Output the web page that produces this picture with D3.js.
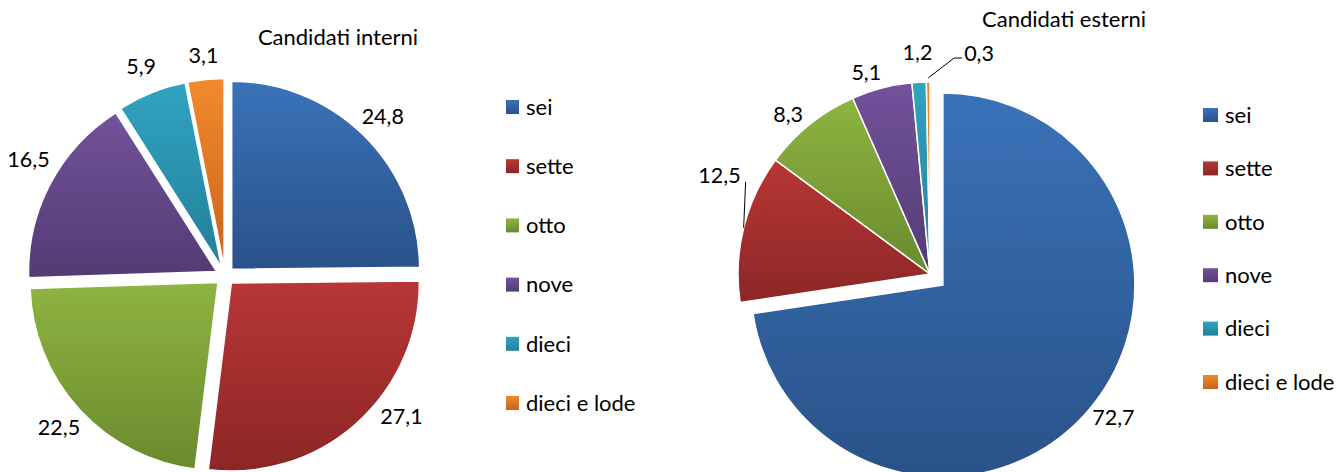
<!DOCTYPE html>
<html>
<head>
<meta charset="utf-8">
<script src="https://cdn.jsdelivr.net/npm/d3@7"></script>
<style>
  html, body { margin: 0; padding: 0; background: #fff; }
  svg { display: block; font-family: Lato, "Open Sans", sans-serif; }
</style>
</head>
<body>
<script>
// Data
const categories = ["sei", "sette", "otto", "nove", "dieci", "dieci e lode"];
const interni = [24.8, 27.1, 22.5, 16.5, 5.9, 3.1];
const esterni = [72.7, 12.5, 8.3, 5.1, 1.2, 0.3];
const titles = ["Candidati interni", "Candidati esterni"];

// Excel-like gradient colours (top, bottom)
const topColors = ["#3a72b9", "#b93636", "#8eb441", "#72529b", "#31a3c2", "#f28a2c"];
const bottomColors = ["#2a5289", "#8c2626", "#6a8a2e", "#533b73", "#22809a", "#c8651a"];

const width = 1340;
const height = 472;

const svg = d3.select("body")
  .append("svg")
  .attr("width", width)
  .attr("height", height);

// gradients, one per category
const defs = svg.append("defs");
categories.forEach((c, i) => {
  const g = defs.append("linearGradient")
    .attr("id", "grad" + i)
    .attr("x1", 0).attr("y1", 0)
    .attr("x2", 0).attr("y2", 1);
  g.append("stop").attr("offset", "0%").attr("stop-color", topColors[i]);
  g.append("stop").attr("offset", "100%").attr("stop-color", bottomColors[i]);
});

const locale = d3.formatLocale({ decimal: ",", thousands: ".", grouping: [3], currency: ["", "€"] });
const fmt = locale.format(".1f");

const labelSize = 21.5;
const textSize = 22;

function drawPie(values, options) {
  const cx = options.cx;
  const cy = options.cy;
  const r = options.radius;
  const explode = options.explode;
  const leaders = options.leaders || {};
  const nudge = options.nudge || {};
  const extra = options.extra || {};

  const pie = d3.pie().sort(null).value(d => d);
  const arcs = pie(values);
  const arc = d3.arc().innerRadius(0).outerRadius(r);

  const g = svg.append("g").attr("transform", `translate(${cx},${cy})`);

  // Slices
  const slices = g.selectAll("g.slice")
    .data(arcs)
    .enter()
    .append("g")
    .attr("class", "slice")
    .attr("transform", (d, i) => {
      const mid = (d.startAngle + d.endAngle) / 2;
      const e = explode[i];
      return `translate(${e * Math.sin(mid)},${-e * Math.cos(mid)})`;
    });

  slices.append("path")
    .attr("d", arc)
    .attr("fill", (d, i) => "url(#grad" + i + ")")
    .attr("stroke", "#fff")
    .attr("stroke-width", 1.5);

  // Labels
  slices.each(function (d, i) {
    const sel = d3.select(this);
    const mid = (d.startAngle + d.endAngle) / 2;
    const text = fmt(d.data);

    if (leaders[i]) {
      const L = leaders[i];
      const x0 = (r + L.start) * Math.sin(mid);
      const y0 = -(r + L.start) * Math.cos(mid);
      const pts = [[x0, y0]];
      L.path.forEach(p => {
        const last = pts[pts.length - 1];
        pts.push([last[0] + p[0], last[1] + p[1]]);
      });
      sel.append("path")
        .attr("d", d3.line()(pts))
        .attr("fill", "none")
        .attr("stroke", "#000")
        .attr("stroke-width", 1);
      const end = pts[pts.length - 1];
      sel.append("text")
        .attr("x", end[0] + L.label[0])
        .attr("y", end[1] + L.label[1])
        .attr("dy", "0.35em")
        .attr("text-anchor", L.anchor)
        .style("font-size", labelSize + "px")
        .text(text);
      return;
    }

    const a = mid + (nudge[i] || 0) * Math.PI / 180;
    const sx = Math.sin(a);
    const sy = -Math.cos(a);
    const t = sel.append("text")
      .attr("dy", "0.35em")
      .attr("text-anchor", "middle")
      .style("font-size", labelSize + "px")
      .text(text);
    const hw = t.node().getComputedTextLength() / 2;
    const hh = labelSize * 0.36;
    // distance from label centre to its box edge along the ray
    const edge = Math.min(hw / Math.max(Math.abs(sx), 1e-6), hh / Math.max(Math.abs(sy), 1e-6));
    const dist = r + options.gap + edge + (extra[i] || 0);
    t.attr("x", dist * sx).attr("y", dist * sy);
  });

  // Title
  svg.append("text")
    .attr("x", options.titleX)
    .attr("y", options.titleY)
    .attr("text-anchor", "middle")
    .style("font-size", textSize + "px")
    .text(options.title);

  // Legend
  const legend = svg.append("g")
    .attr("transform", `translate(${options.legendX},${options.legendY})`);
  const rows = legend.selectAll("g")
    .data(categories)
    .enter()
    .append("g")
    .attr("transform", (d, i) => `translate(0,${i * options.legendStep})`);
  rows.append("rect")
    .attr("x", 0)
    .attr("y", -7)
    .attr("width", options.swatchW)
    .attr("height", 14)
    .attr("fill", (d, i) => "url(#grad" + i + ")");
  rows.append("text")
    .attr("x", options.swatchW + 7)
    .attr("y", 0)
    .attr("dy", "0.35em")
    .style("font-size", textSize + "px")
    .text(d => d);
}

drawPie(interni, {
  cx: 225, cy: 276, radius: 188,
  explode: [9.5, 9.5, 9.5, 9.5, 9.5, 9.5],
  gap: 16,
  nudge: { 1: -10, 3: 3 },
  extra: { 4: 4 },
  title: titles[0], titleX: 338, titleY: 45,
  legendX: 506, legendY: 107, legendStep: 59.2, swatchW: 13,
});

drawPie(esterni, {
  cx: 930, cy: 274, radius: 192,
  explode: [17, 0, 0, 0, 0, 0],
  gap: 11,
  nudge: { 0: -3, 2: -3, 3: -3 },
  extra: { 4: 11 },
  leaders: {
    1: { start: 0, path: [[2, -46]], label: [-5, -6], anchor: "end" },
    5: { start: 4, path: [[26, -20], [8, 0]], label: [2, -5], anchor: "start" },
  },
  title: titles[1], titleX: 1064, titleY: 27,
  legendX: 1203, legendY: 115, legendStep: 53.4, swatchW: 15,
});
</script>
</body>
</html>
